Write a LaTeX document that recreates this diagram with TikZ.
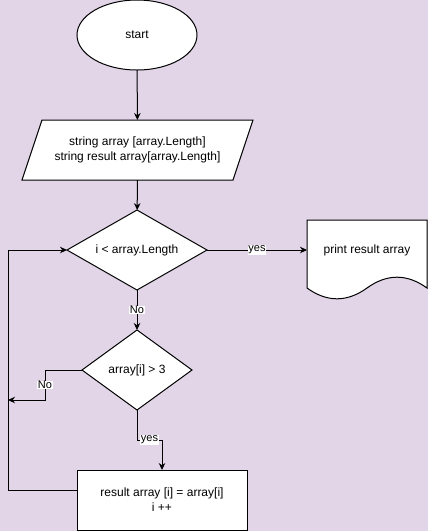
\documentclass[tikz,border=0pt]{standalone}
\usepackage{fontspec}
\setmainfont{Liberation Sans}
\usetikzlibrary{shapes.geometric,arrows.meta}
\definecolor{bg}{HTML}{E1D5E7}
\begin{document}
\begin{tikzpicture}[x=1pt,y=-1pt,
  font=\fontsize{12}{15}\selectfont, line width=1pt,
  arr/.style={-{Stealth[length=7pt,width=6.5pt]}},
  lbl/.style={fill=white,inner sep=0.6pt,font=\fontsize{11}{13}\selectfont},
  shapebox/.style={draw,fill=white,inner sep=0pt,outer sep=0pt}]
\fill[bg] (0,0) rectangle (428,531);
\useasboundingbox (0,0) rectangle (428,531);
% start
\node[shapebox,ellipse,minimum width=120pt,minimum height=70pt] (start) at (137,35) {start};
% parallelogram
\filldraw[fill=white] (42,120) -- (253,120) -- (233,180) -- (22,180) -- cycle;
\node[inner sep=0pt,outer sep=0pt,minimum width=190pt,minimum height=60pt,align=center] (init) at (137.5,150) {string array [array.Length]\\string result array[array.Length]};
% decision 1
\node[shapebox,diamond,aspect=1.75,minimum width=140pt,minimum height=80pt] (d1) at (137,250) {i < array.Length};
% document
\filldraw[fill=white] (307,220) -- (427,220) -- (427,288)
  .. controls (407,273.6) and (387,273.6) .. (367,288)
  .. controls (347,302.4) and (327,302.4) .. (307,288) -- cycle;
\node[inner sep=0pt,outer sep=0pt,minimum width=120pt,minimum height=20pt] (doc) at (367,250) {print result array};
% decision 2
\node[shapebox,diamond,aspect=1.375,minimum width=110pt,minimum height=80pt] (d2) at (137,370) {array[i] > 3};
% process
\node[shapebox,rectangle,minimum width=170pt,minimum height=60pt,align=center] (proc) at (162,500) {result array [i] = array[i]\\i ++};
\coordinate (noend) at (8,400);
% connectors
\draw[arr] (start) -- (init);
\draw[arr] (init) -- (d1);
\draw[arr] (d1) -- node[lbl]{yes} (doc);
\draw[arr] (d1) -- node[lbl]{No} (d2);
\draw[arr] (d2.west) -- (45,370) -- node[lbl]{No} (45,400) -- (noend);
\draw[arr] (d2.south) -- (137,440) -- node[lbl]{yes} (162,440) -- (proc.north);
\draw[arr] ([yshift=10pt]proc.west) -- (8,490) -- (8,250) -- (d1.west);
\end{tikzpicture}
\end{document}
